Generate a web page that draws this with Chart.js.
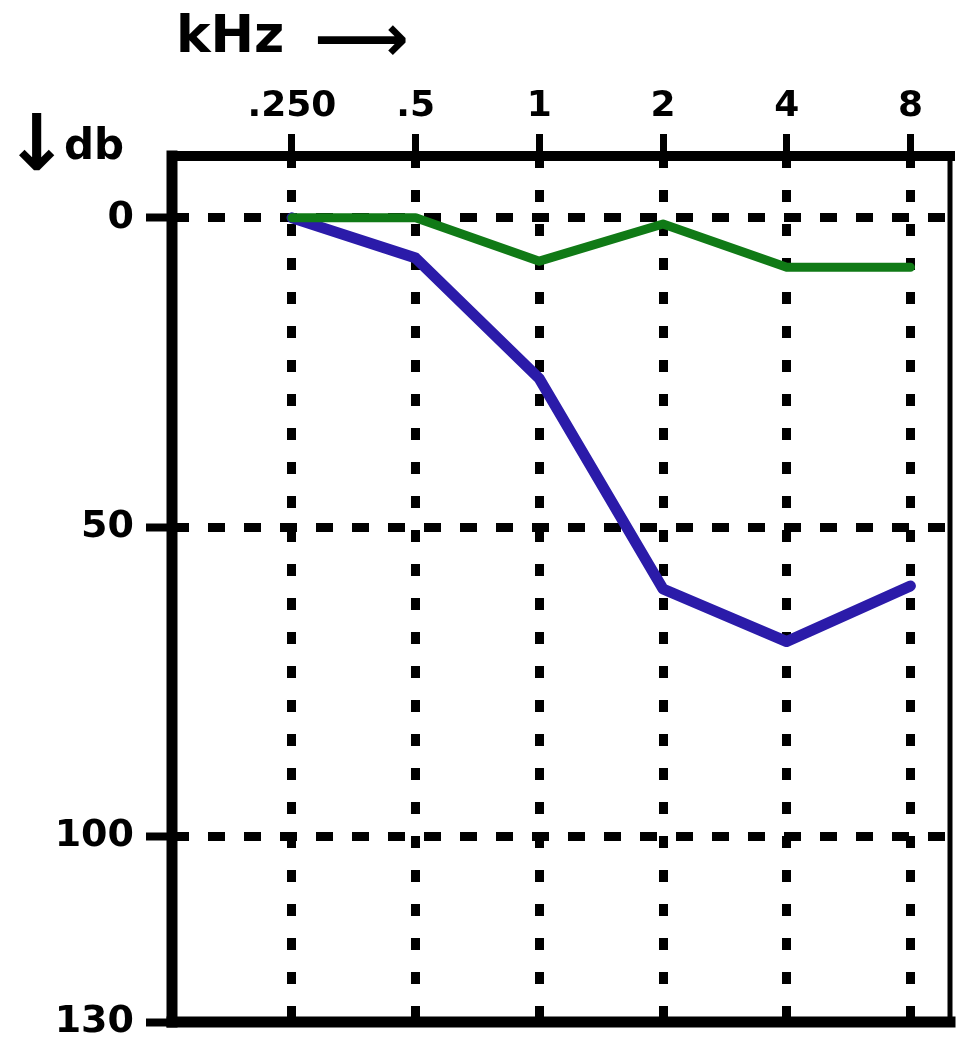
<!DOCTYPE html>
<html><head><meta charset="utf-8">
<script src="https://cdn.jsdelivr.net/npm/chart.js@4"></script>
<style>html,body{margin:0;padding:0;background:#fff}#wrap{position:relative;width:958px;height:1045px}</style>
</head><body><div id="wrap"><canvas id="c"></canvas></div>
<script>
const frequencyLabels = ['.250', '.5', '1', '2', '4', '8'];
const greenDb = [0, 0, 7, 1, 8, 8];
const blueDb = [0, 6.5, 26, 60, 68.5, 59.5];
const dbTicks = [0, 50, 100, 130];
const xTitle = 'kHz';
const xArrow = '⟶';
const yArrow = '↓';
const yTitle = 'db';

const FONT = '"DejaVu Sans", sans-serif';

const framePlugin = {
  id: 'frame',
  afterDraw(chart) {
    const {ctx, chartArea: a} = chart;
    ctx.save();
    ctx.strokeStyle = '#000';
    ctx.lineCap = 'square';
    ctx.lineWidth = 10;
    ctx.beginPath(); ctx.moveTo(a.left, a.top); ctx.lineTo(a.right, a.top); ctx.stroke();
    ctx.lineWidth = 11;
    ctx.beginPath(); ctx.moveTo(a.left, a.top); ctx.lineTo(a.left, a.bottom); ctx.stroke();
    ctx.beginPath(); ctx.moveTo(a.left, a.bottom); ctx.lineTo(a.right, a.bottom); ctx.stroke();
    ctx.lineWidth = 5;
    ctx.beginPath(); ctx.moveTo(a.right, a.top); ctx.lineTo(a.right, a.bottom); ctx.stroke();
    ctx.fillStyle = '#000';
    ctx.textBaseline = 'middle';
    ctx.textAlign = 'left';
    ctx.font = 'bold 52px ' + FONT;
    ctx.fillText(xTitle, 176, 38);
    ctx.font = 'bold 66px ' + FONT;
    ctx.fillText(xArrow, 314, 44);
    ctx.font = 'bold 78px ' + FONT;
    ctx.fillText(yArrow, 4, 150);
    ctx.font = 'bold 42px ' + FONT;
    ctx.fillText(yTitle, 64, 148);
    ctx.restore();
  }
};

new Chart(document.getElementById('c'), {
  type: 'line',
  data: {
    datasets: [
      {
        label: 'green',
        data: greenDb.map((v, i) => ({x: i, y: v})),
        borderColor: '#107a16',
        borderWidth: 9,
        pointRadius: 0,
        tension: 0,
        borderCapStyle: 'round',
        borderJoinStyle: 'round'
      },
      {
        label: 'blue',
        data: blueDb.map((v, i) => ({x: i, y: v})),
        borderColor: '#2b1ba9',
        borderWidth: 11,
        pointRadius: 0,
        tension: 0,
        borderCapStyle: 'round',
        borderJoinStyle: 'round'
      }
    ]
  },
  options: {
    responsive: true,
    maintainAspectRatio: false,
    animation: false,
    layout: {padding: {top: 0, left: 0, right: 8, bottom: 23}},
    plugins: {legend: {display: false}, tooltip: {enabled: false}},
    scales: {
      x: {
        type: 'linear',
        position: 'top',
        min: -0.97,
        max: 5.32,
        afterBuildTicks: s => { s.ticks = frequencyLabels.map((_, i) => ({value: i})); },
        afterFit: s => { s.height = 156; s.paddingLeft = 0; s.paddingRight = 0; },
        ticks: {
          callback: v => frequencyLabels[v],
          color: '#000',
          font: {family: FONT, size: 36, weight: 'bold'},
          padding: 6,
          maxRotation: 0,
          autoSkip: false
        },
        grid: {
          color: '#000',
          lineWidth: 9,
          tickLength: 22,
          tickColor: '#000',
          tickWidth: 7
        },
        border: {display: false, dash: [12, 22]}
      },
      y: {
        type: 'linear',
        reverse: true,
        min: -10,
        max: 130,
        afterBuildTicks: s => { s.ticks = dbTicks.map(v => ({value: v})); },
        afterFit: s => { s.width = 172; s.paddingTop = 0; s.paddingBottom = 0; },
        ticks: {
          color: '#000',
          font: {family: FONT, size: 38, weight: 'bold'},
          padding: 12,
          autoSkip: false
        },
        grid: {
          color: '#000',
          lineWidth: 9,
          tickLength: 26,
          tickColor: '#000',
          tickWidth: 8
        },
        border: {display: false, dash: [17, 19]}
      }
    }
  },
  plugins: [framePlugin]
});
</script>
</body></html>
